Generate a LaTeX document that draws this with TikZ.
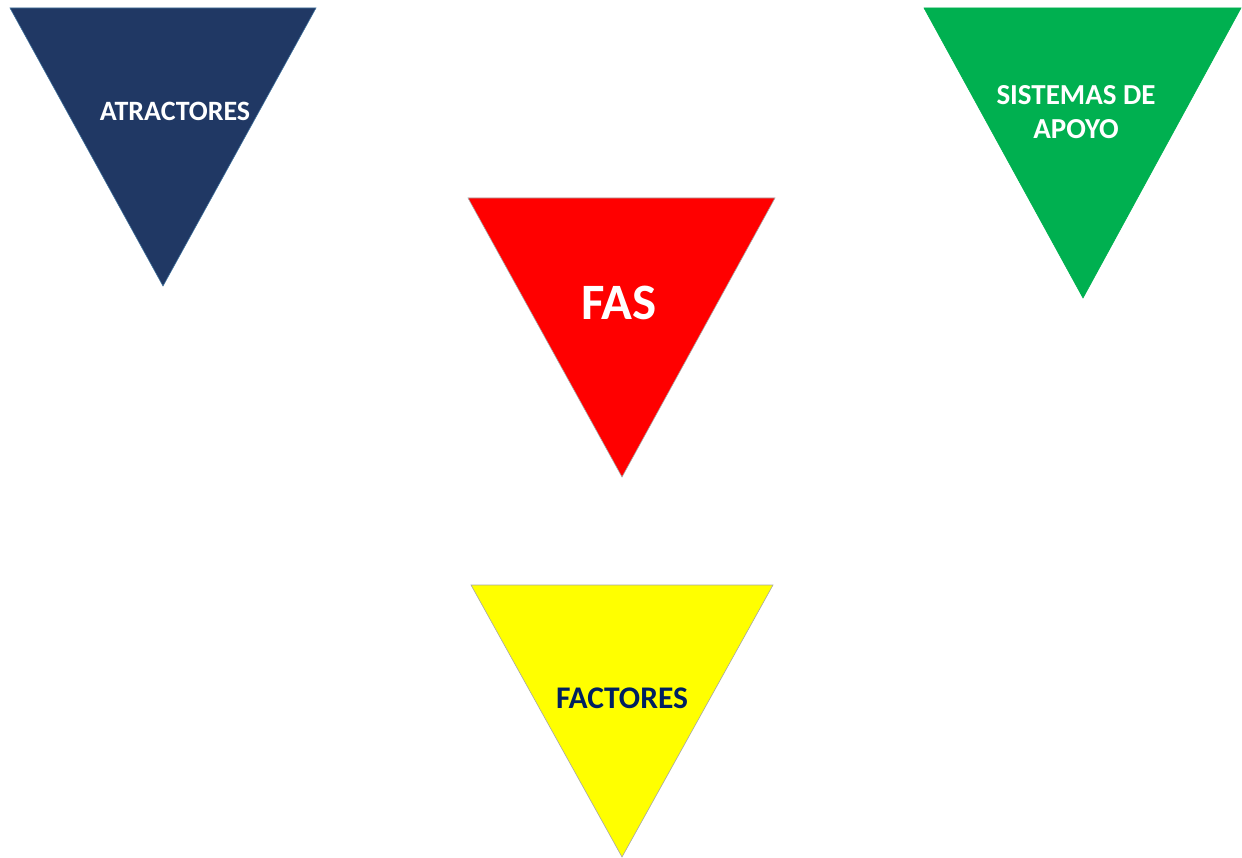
\documentclass[tikz,border=0pt]{standalone}
\usepackage{fontspec}
\setmainfont{Carlito}
\definecolor{navy}{HTML}{203864}
\definecolor{navyedge}{HTML}{41719C}
\definecolor{grn}{HTML}{00B050}
\definecolor{redf}{HTML}{FF0000}
\definecolor{yel}{HTML}{FFFF00}
\definecolor{darkblue}{HTML}{002060}
\tikzset{
  tri/.style={line width=0.6pt},
  lbl/.style={font=\bfseries, align=center, inner sep=0pt},
}
\begin{document}
\begin{tikzpicture}[x=1pt,y=-1pt]
\useasboundingbox (0,0) rectangle (1242,858);
% navy
\draw[tri, fill=navy, draw=navyedge] (10,8) -- (316,8) -- (163,286) -- cycle;
\node[lbl, text=white, font=\bfseries\fontsize{28}{32}\selectfont] (atr) at (175,111) {ATRACTORES};
% green
\draw[tri, fill=grn, draw=grn] (924,8) -- (1241,8) -- (1083,298) -- cycle;
\node[lbl, text=white, font=\bfseries\fontsize{29}{34}\selectfont] (sis) at (1076,112) {SISTEMAS DE\\APOYO};
% red
\draw[tri, fill=redf, draw=gray!70] (468,198) -- (775,198) -- (622,477) -- cycle;
\node[lbl, text=white, font=\bfseries\fontsize{51}{55}\selectfont] (fas) at (619,303) {FAS};
% yellow
\draw[tri, fill=yel, draw=gray!70] (471,585) -- (773,585) -- (622,857) -- cycle;
\node[lbl, text=darkblue, font=\bfseries\fontsize{31.5}{36}\selectfont] (fac) at (622,698) {FACTORES};
\end{tikzpicture}
\end{document}
